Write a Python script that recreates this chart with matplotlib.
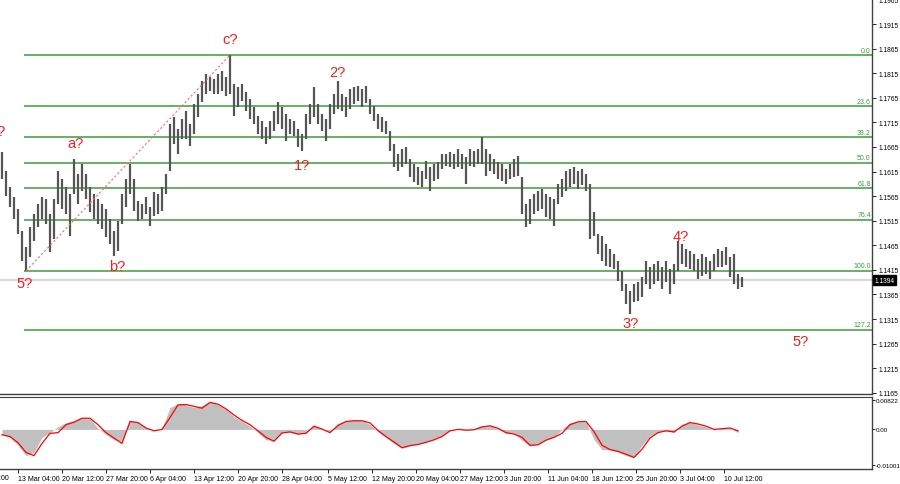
import numpy as np
import matplotlib
matplotlib.use("Agg")
import matplotlib.pyplot as plt

plt.rcParams["font.family"] = ["Liberation Sans", "DejaVu Sans"]

# H4 bars (high / low) left to right
bar_high = [
    1.1655, 1.1616, 1.1584, 1.1563, 1.1539, 1.1494, 1.1462, 1.1502, 1.1529, 1.1549,
    1.1563, 1.1559, 1.1529, 1.1559, 1.1616, 1.1600, 1.1584, 1.1569, 1.1641, 1.1610,
    1.1630, 1.1610, 1.1584, 1.1569, 1.1559, 1.1549, 1.1539, 1.1519, 1.1494, 1.1514,
    1.1569, 1.1600, 1.1630, 1.1600, 1.1555, 1.1549, 1.1563, 1.1543, 1.1573, 1.1569,
    1.1584, 1.1610, 1.1712, 1.1726, 1.1702, 1.1722, 1.1738, 1.1712, 1.1752, 1.1773,
    1.1799, 1.1813, 1.1807, 1.1803, 1.1813, 1.1820, 1.1807, 1.1852, 1.1793, 1.1787,
    1.1793, 1.1777, 1.1763, 1.1746, 1.1728, 1.1718, 1.1706, 1.1718, 1.1738, 1.1756,
    1.1746, 1.1732, 1.1722, 1.1718, 1.1702, 1.1691, 1.1732, 1.1752, 1.1787, 1.1752,
    1.1732, 1.1722, 1.1752, 1.1773, 1.1799, 1.1773, 1.1767, 1.1783, 1.1787, 1.1789,
    1.1783, 1.1789, 1.1763, 1.1748, 1.1732, 1.1726, 1.1718, 1.1697, 1.1671, 1.1651,
    1.1661, 1.1665, 1.1641, 1.1630, 1.1624, 1.1616, 1.1636, 1.1624, 1.1630, 1.1634,
    1.1651, 1.1651, 1.1655, 1.1651, 1.1661, 1.1651, 1.1645, 1.1661, 1.1657, 1.1661,
    1.1685, 1.1661, 1.1651, 1.1641, 1.1634, 1.1630, 1.1620, 1.1630, 1.1641, 1.1647,
    1.1604, 1.1549, 1.1559, 1.1569, 1.1575, 1.1580, 1.1569, 1.1563, 1.1559, 1.1590,
    1.1600, 1.1616, 1.1620, 1.1624, 1.1616, 1.1620, 1.1610, 1.1590, 1.1533, 1.1488,
    1.1484, 1.1468, 1.1458, 1.1447, 1.1433, 1.1413, 1.1386, 1.1372, 1.1386, 1.1390,
    1.1401, 1.1433, 1.1421, 1.1427, 1.1433, 1.1421, 1.1433, 1.1417, 1.1427, 1.1474,
    1.1468, 1.1458, 1.1453, 1.1447, 1.1437, 1.1447, 1.1441, 1.1433, 1.1447, 1.1458,
    1.1453, 1.1462, 1.1441, 1.1447, 1.1407, 1.1401,
]
bar_low = [
    1.1600, 1.1565, 1.1543, 1.1519, 1.1488, 1.1433, 1.1413, 1.1441, 1.1474, 1.1502,
    1.1519, 1.1508, 1.1451, 1.1478, 1.1549, 1.1539, 1.1529, 1.1484, 1.1569, 1.1549,
    1.1575, 1.1559, 1.1533, 1.1519, 1.1508, 1.1498, 1.1482, 1.1468, 1.1443, 1.1453,
    1.1508, 1.1543, 1.1569, 1.1535, 1.1514, 1.1519, 1.1529, 1.1504, 1.1525, 1.1529,
    1.1535, 1.1569, 1.1616, 1.1671, 1.1651, 1.1681, 1.1681, 1.1667, 1.1691, 1.1726,
    1.1756, 1.1773, 1.1779, 1.1773, 1.1773, 1.1779, 1.1769, 1.1773, 1.1728, 1.1746,
    1.1759, 1.1738, 1.1722, 1.1712, 1.1691, 1.1681, 1.1671, 1.1681, 1.1697, 1.1712,
    1.1702, 1.1677, 1.1691, 1.1687, 1.1665, 1.1657, 1.1681, 1.1712, 1.1726, 1.1712,
    1.1697, 1.1677, 1.1702, 1.1732, 1.1742, 1.1738, 1.1726, 1.1742, 1.1752, 1.1759,
    1.1746, 1.1754, 1.1732, 1.1718, 1.1702, 1.1695, 1.1691, 1.1657, 1.1624, 1.1616,
    1.1624, 1.1630, 1.1604, 1.1594, 1.1588, 1.1584, 1.1600, 1.1575, 1.1596, 1.1600,
    1.1620, 1.1626, 1.1624, 1.1620, 1.1624, 1.1620, 1.1590, 1.1626, 1.1624, 1.1630,
    1.1630, 1.1606, 1.1616, 1.1610, 1.1600, 1.1596, 1.1590, 1.1600, 1.1604, 1.1606,
    1.1529, 1.1502, 1.1508, 1.1529, 1.1535, 1.1539, 1.1523, 1.1519, 1.1504, 1.1549,
    1.1563, 1.1575, 1.1584, 1.1590, 1.1580, 1.1588, 1.1575, 1.1478, 1.1484, 1.1447,
    1.1433, 1.1423, 1.1421, 1.1417, 1.1392, 1.1372, 1.1346, 1.1325, 1.1350, 1.1352,
    1.1360, 1.1386, 1.1376, 1.1386, 1.1392, 1.1376, 1.1390, 1.1366, 1.1386, 1.1413,
    1.1427, 1.1421, 1.1417, 1.1413, 1.1397, 1.1403, 1.1407, 1.1397, 1.1413, 1.1421,
    1.1421, 1.1425, 1.1401, 1.1386, 1.1376, 1.1380,
]
last_price = 1.1394

# fibonacci grid stretched from the 5? low to the c? high
fib_high = 1.1852
fib_low = 1.1413
fib_levels = [0.0, 23.6, 38.2, 50.0, 61.8, 76.4, 100.0, 127.2]

wave_labels = ["4?", "a?", "c?", "2?", "1?", "5?", "b?", "3?", "4?", "5?"]
wave_x = [-1.0, 18.25, 57, 83.75, 75, 5.75, 28.75, 157.25, 169.75, 199.75]
wave_y = [1.1697, 1.1673, 1.1885, 1.1817, 1.1628, 1.1388, 1.1423, 1.1307, 1.1484, 1.1270]

# MACD, one reading every second bar
macd_hist = [
    -0.0014, -0.0022, -0.0044, -0.0073, -0.0064, -0.0022, -0.0009, 0.0008, 0.0019, 0.0024,
    0.0032, 0.0030, 0.0003, -0.0014, -0.0029, -0.0033, 0.0025, 0.0020, 0.0004, -0.0003,
    0.0003, 0.0061, 0.0072, 0.0068, 0.0061, 0.0066, 0.0078, 0.0069, 0.0055, 0.0036,
    0.0022, 0.0009, -0.0009, -0.0029, -0.0031, -0.0009, -0.0007, -0.0013, -0.0009, 0.0011,
    0.0000, -0.0007, 0.0017, 0.0024, 0.0026, 0.0024, 0.0014, -0.0007, -0.0022, -0.0040,
    -0.0052, -0.0046, -0.0040, -0.0036, -0.0026, -0.0017, -0.0002, 0.0002, -0.0003, 0.0000,
    0.0010, 0.0010, 0.0001, -0.0011, -0.0011, -0.0031, -0.0047, -0.0040, -0.0028, -0.0022,
    0.0000, 0.0019, 0.0021, 0.0021, -0.0028, -0.0056, -0.0057, -0.0063, -0.0073, -0.0077,
    -0.0044, -0.0018, -0.0007, -0.0003, -0.0009, 0.0015, 0.0019, 0.0013, 0.0007, -0.0002,
    0.0004, 0.0003, -0.0009,
]
macd_signal = [
    -0.0015, -0.0020, -0.0037, -0.0064, -0.0073, -0.0039, -0.0011, -0.0009, 0.0013, 0.0020,
    0.0031, 0.0031, 0.0013, -0.0009, -0.0024, -0.0039, 0.0022, 0.0019, 0.0004, -0.0004,
    0.0000, 0.0033, 0.0068, 0.0069, 0.0064, 0.0059, 0.0075, 0.0070, 0.0057, 0.0040,
    0.0025, 0.0013, -0.0004, -0.0022, -0.0033, -0.0010, -0.0007, -0.0013, -0.0011, 0.0009,
    0.0001, -0.0009, 0.0011, 0.0022, 0.0024, 0.0024, 0.0018, -0.0003, -0.0020, -0.0035,
    -0.0051, -0.0045, -0.0042, -0.0036, -0.0029, -0.0020, -0.0004, 0.0000, -0.0002, -0.0001,
    0.0007, 0.0010, 0.0003, -0.0009, -0.0013, -0.0022, -0.0044, -0.0043, -0.0030, -0.0022,
    -0.0011, 0.0013, 0.0021, 0.0022, -0.0006, -0.0044, -0.0056, -0.0061, -0.0069, -0.0078,
    -0.0055, -0.0024, -0.0009, -0.0004, -0.0007, 0.0009, 0.0019, 0.0015, 0.0009, 0.0000,
    0.0002, 0.0004, -0.0004,
]

date_ticks = [4, 15, 26, 37, 48, 59, 70, 81.5, 92.5, 103.5, 114.5, 125.5,
              136.5, 147.5, 158.5, 169.5, 180.5]
date_labels = ["13 Mar 04:00", "20 Mar 12:00", "27 Mar 20:00", "6 Apr 04:00",
               "13 Apr 12:00", "20 Apr 20:00", "28 Apr 04:00", "5 May 12:00",
               "12 May 20:00", "20 May 04:00", "27 May 12:00", "3 Jun 20:00",
               "11 Jun 04:00", "18 Jun 12:00", "25 Jun 20:00", "3 Jul 04:00",
               "10 Jul 12:00"]

FRAME = "#404040"
FIB_GREEN = "#3c9d3c"
XMIN, XMAX = -0.5, 217.5

fig = plt.figure(figsize=(9.0, 4.85), dpi=100)
ax = fig.add_axes([0, 90 / 485, 872 / 900, 395 / 485])
ax_m = fig.add_axes([0, 15 / 485, 872 / 900, 72 / 485])

# --- price panel
idx = np.arange(len(bar_high))
ax.axhline(last_price, color="#d8d8d8", lw=1.6, zorder=0)

fib_prices = [fib_high - (fib_high - fib_low) * lv / 100 for lv in fib_levels]
ax.hlines(fib_prices, 5.5, XMAX, color=FIB_GREEN, lw=1.1, zorder=1)
for lv, p in zip(fib_levels, fib_prices):
    ax.text(217.2, p + 0.0003, f"{lv:.1f}", ha="right", va="bottom",
            fontsize=5.0, color=FIB_GREEN)

ax.vlines(idx, bar_low, bar_high, color="#555555", lw=1.6, zorder=2)
ax.plot([6, 57], [fib_low, fib_high], color="#ff6a6a", lw=0.8,
        ls=(0, (2, 2)), zorder=3)

for lab, x, y in zip(wave_labels, wave_x, wave_y):
    ax.text(x, y, lab, ha="center", va="center", fontsize=10.5, color="#ff1a1a",
            clip_on=False)

ax.set_xlim(XMIN, XMAX)
ax.set_ylim(1.11626, 1.1966)
ax.yaxis.tick_right()
ax.set_yticks(np.round(np.arange(1.1165, 1.1966, 0.005), 4))
ax.yaxis.set_major_formatter(matplotlib.ticker.FormatStrFormatter("%.4f"))
ax.tick_params(axis="y", labelsize=4.8, length=3, width=0.6, pad=1.5, colors="black")
ax.tick_params(axis="x", bottom=False, labelbottom=False)
ax.text(1.003, last_price, "1.1394", transform=ax.get_yaxis_transform(),
        ha="left", va="center", fontsize=4.8, color="white",
        bbox=dict(boxstyle="square,pad=0.25", fc="black", ec="black"))

# --- MACD panel
mx = np.arange(0, 2 * len(macd_hist), 2)
ax_m.fill_between(mx, 0, macd_hist, color="#c0c0c0", lw=0)
ax_m.plot(mx, macd_signal, color="#ff0000", lw=0.9)
ax_m.set_xlim(XMIN, XMAX)
ax_m.set_ylim(-0.011, 0.009)
ax_m.yaxis.tick_right()
ax_m.set_yticks([-0.01001, 0.0, 0.00822])
ax_m.set_yticklabels(["-0.01001", "0.00", "0.00822"])
ax_m.tick_params(axis="y", labelsize=4.5, length=2, width=0.6, pad=1.0)
ax_m.set_xticks(date_ticks)
ax_m.set_xticklabels(date_labels, ha="left")
ax_m.tick_params(axis="x", labelsize=5.0, length=3, width=0.6, pad=1.5)
ax_m.text(-7.75, -0.0123, "5 Mar 20:00", ha="left", va="top", fontsize=5.0,
          clip_on=False)

for a in (ax, ax_m):
    for side in ("left", "top"):
        a.spines[side].set_visible(False)
    for side in ("right", "bottom"):
        a.spines[side].set_color(FRAME)
        a.spines[side].set_linewidth(1.0)
ax_m.spines["top"].set_visible(True)
ax_m.spines["top"].set_color(FRAME)

fig.savefig("out.png", dpi=100)
